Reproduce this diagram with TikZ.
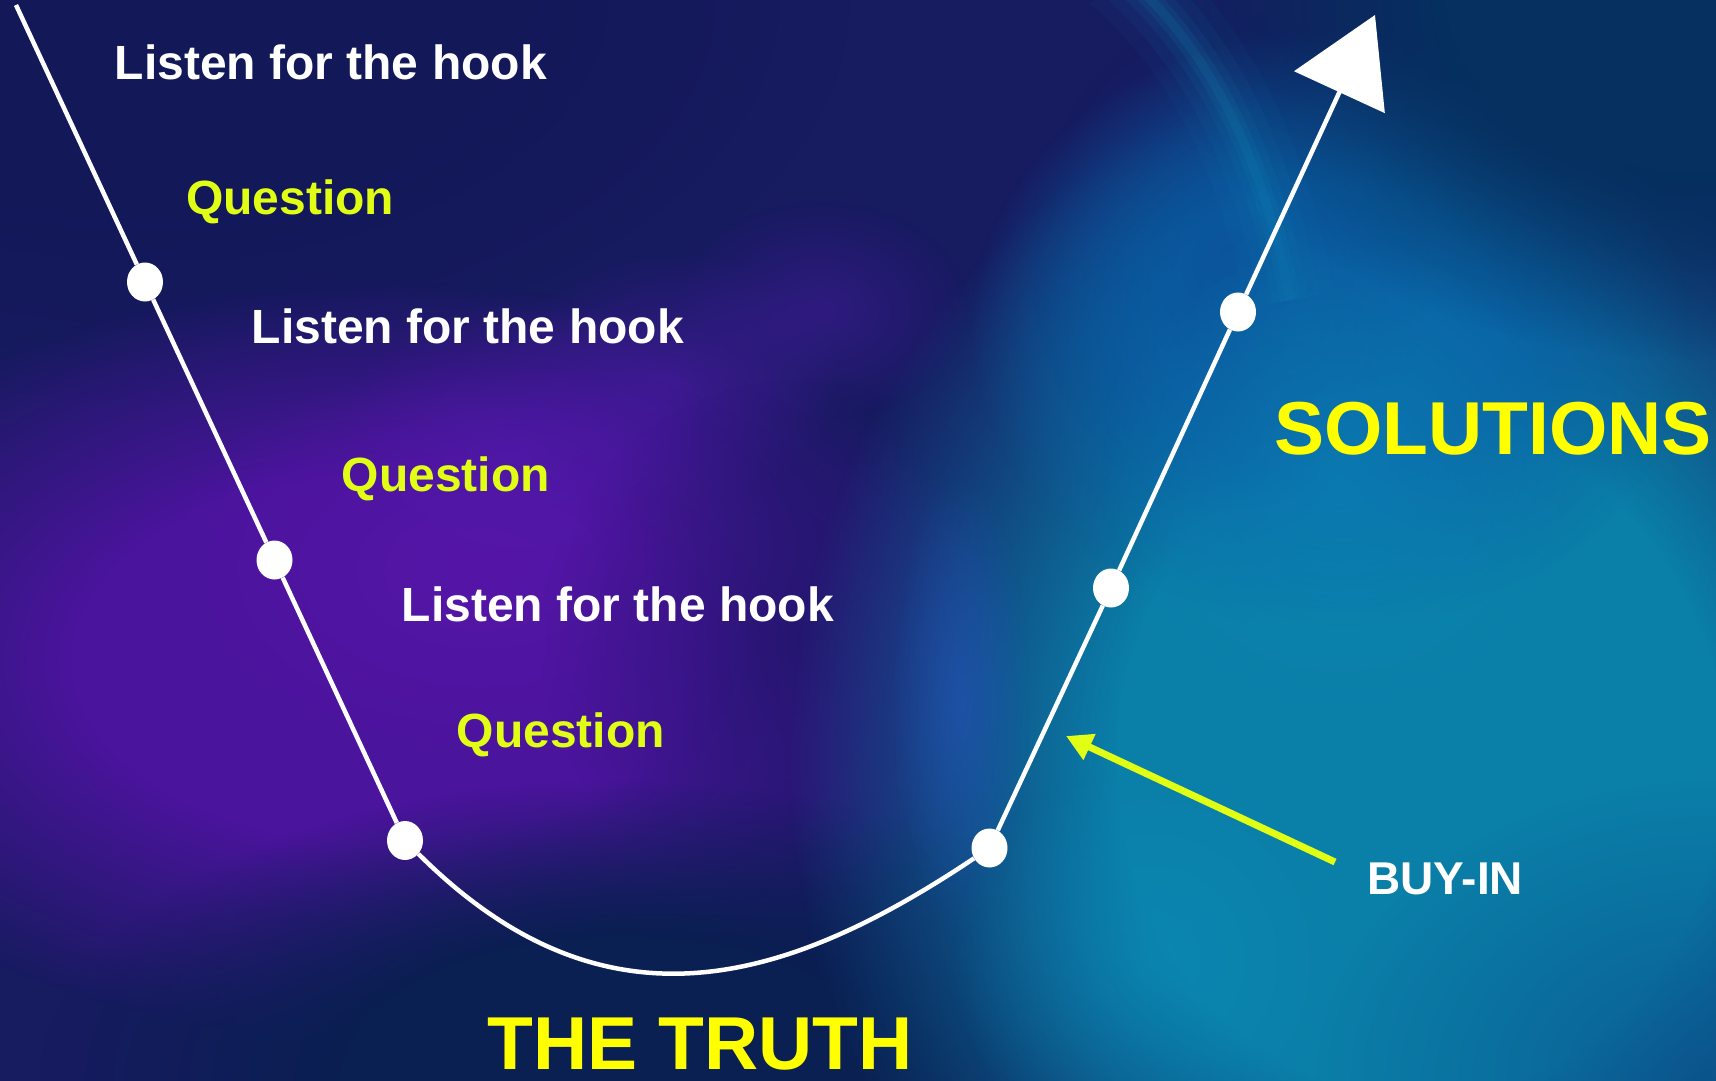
\documentclass[tikz,border=0pt]{standalone}
\usepackage{fontspec}
\setmainfont{Liberation Sans}
\usetikzlibrary{arrows.meta,fadings,shapes.geometric}

\definecolor{bgnavy}{RGB}{23,27,96}
\definecolor{bgtl}{RGB}{18,24,88}
\definecolor{bgpurple}{RGB}{74,20,156}
\definecolor{bgviolet}{RGB}{88,22,170}
\definecolor{bgstreak}{RGB}{84,26,176}
\definecolor{bgmid}{RGB}{28,22,102}
\definecolor{bgdark}{RGB}{10,31,82}
\definecolor{bgteal}{RGB}{10,127,168}
\definecolor{bgteal2}{RGB}{10,100,166}
\definecolor{bgcyan}{RGB}{10,143,187}
\definecolor{bgdeep}{RGB}{5,48,95}
\definecolor{bgblue}{RGB}{10,60,140}
\definecolor{bgridge}{RGB}{16,140,185}
\definecolor{bgedge}{RGB}{36,84,184}
\definecolor{bgbr}{RGB}{10,79,138}
\definecolor{qyellow}{RGB}{224,255,20}
\definecolor{tyellow}{RGB}{255,255,0}

\tikzfading[name=glow, inner color=transparent!0, outer color=transparent!100]
\pgfdeclareradialshading{platshade}{\pgfpointorigin}{color(0bp)=(pgftransparent!0); color(12bp)=(pgftransparent!0); color(25bp)=(pgftransparent!100); color(50bp)=(pgftransparent!100)}
\pgfdeclarefading{plat}{\pgfuseshading{platshade}}

\tikzset{
  wline/.style={draw=white, line width=4.5pt},
  dotnode/.style={ellipse, fill=white, minimum width=36pt, minimum height=39pt, inner sep=0pt},
  hooktext/.style={anchor=base west, inner sep=0pt, text=white, font=\fontsize{48}{48}\selectfont\bfseries},
  questtext/.style={anchor=base west, inner sep=0pt, text=qyellow, font=\fontsize{48}{48}\selectfont\bfseries},
  bigtext/.style={anchor=base west, inner sep=0pt, text=tyellow, font=\fontsize{75}{75}\selectfont\bfseries},
  buytext/.style={anchor=base west, inner sep=0pt, text=white, font=\fontsize{46}{46}\selectfont\bfseries},
  buyarrow/.style={draw=qyellow, line width=7pt, -{Triangle[length=26pt,width=27pt]}},
  bglow/.style={path fading=glow},
  bplat/.style={path fading=plat}
}

\begin{document}
\begin{tikzpicture}[x=1pt,y=-1pt]
\useasboundingbox (0,0) rectangle (1716,1081);
% background
\fill[bgnavy] (0,0) rectangle (1716,1081);
\fill[bgtl, bplat] (150,0) ellipse [x radius=700, y radius=400];
\fill[bgpurple, bplat] (380,660) ellipse [x radius=640, y radius=380];
\fill[bgviolet, bglow, opacity=.8] (480,570) ellipse [x radius=330, y radius=210];
\fill[bgstreak, bglow, opacity=.55] (520,450) ellipse [x radius=190, y radius=150];
\fill[bgstreak, bglow, opacity=.5] (670,380) ellipse [x radius=170, y radius=130];
\fill[bgstreak, bglow, opacity=.4] (820,310) ellipse [x radius=150, y radius=110];
\fill[bgmid, bglow, opacity=.7] (800,640) ellipse [x radius=260, y radius=260];
\fill[bgdark, bplat] (620,1081) ellipse [x radius=580, y radius=300];
\fill[bgteal, bplat] (1420,760) ellipse [x radius=630, y radius=700];
\fill[bgteal2, bplat] (1330,330) ellipse [x radius=360, y radius=300];
\fill[bgdeep, bplat] (1716,0) ellipse [x radius=560, y radius=360];
\fill[bgblue, bglow, opacity=.4] (1230,260) ellipse [x radius=200, y radius=250];
\foreach \w/\o in {90/.05,60/.07,36/.09,20/.12,9/.15}
  \draw[bgridge, line width=\w pt, opacity=\o] (1120,-30) .. controls (1200,40) and (1260,140) .. (1290,300);
\fill[bgteal2, bglow, opacity=.6] (1300,330) ellipse [x radius=120, y radius=120];
\fill[bgedge, bglow, opacity=.6] (960,700) ellipse [x radius=70, y radius=230];
\fill[bgcyan, bglow, opacity=.5] (1340,480) ellipse [x radius=240, y radius=240];
\fill[bgcyan, bglow, opacity=.5] (1150,960) ellipse [x radius=200, y radius=200];
\fill[bgbr, bglow, opacity=.7] (1716,1081) ellipse [x radius=400, y radius=300];

% dots
\coordinate (top) at (16,5);
\node[dotnode] (d1) at (145,282) {};
\node[dotnode] (d2) at (274.5,560) {};
\node[dotnode] (d3) at (405,840.5) {};
\node[dotnode] (d4) at (989.5,848) {};
\node[dotnode] (d5) at (1111,588) {};
\node[dotnode] (d6) at (1238,312) {};
\coordinate (tip) at (1375,15);

% main path
\draw[wline] (top) -- (d1) -- (d2) -- (d3);
\draw[wline] (d3) .. controls (603,1038) and (783,986) .. (d4);
\draw[wline, -{Triangle[length=85pt,width=99pt]}] (d4) -- (d5) -- (d6) -- (tip);

% labels
\node[hooktext] (h1) at (114.5,80) {Listen for the hook};
\node[questtext] (q1) at (186,214.5) {Question};
\node[hooktext] (h2) at (251.5,343.5) {Listen for the hook};
\node[questtext] (q2) at (341.5,491.5) {Question};
\node[hooktext] (h3) at (401.5,621.5) {Listen for the hook};
\node[questtext] (q3) at (456.5,747.5) {Question};
\node[bigtext] (sol) at (1274,454) {SOLUTIONS};
\node[bigtext] (truth) at (487.5,1069) {THE TRUTH};
\node[buytext] (buy) at (1367,894) {BUY-IN};

% buy-in arrow
\coordinate (buytail) at (1335,862);
\coordinate (buytip) at (1066,736);
\draw[buyarrow] (buytail) -- (buytip);
\end{tikzpicture}
\end{document}
